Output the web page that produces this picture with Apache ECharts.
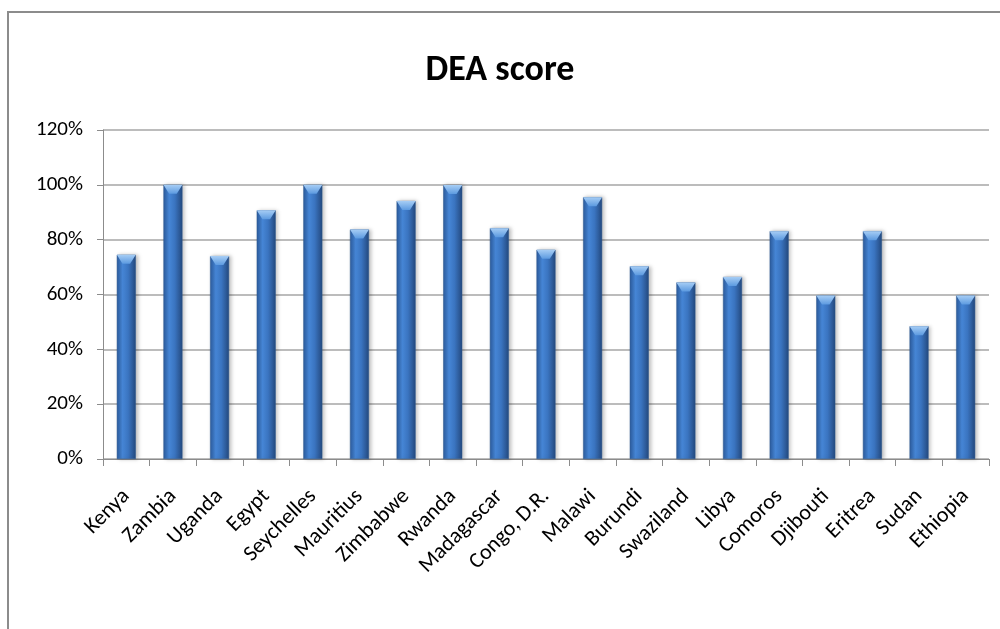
<!DOCTYPE html>
<html>
<head>
<meta charset="utf-8">
<script src="https://cdn.jsdelivr.net/npm/echarts@6/dist/echarts.min.js"></script>
<style>
  html, body { margin: 0; padding: 0; background: #fff; }
  #chart { width: 1000px; height: 629px; }
</style>
</head>
<body>
<div id="chart"></div>
<script>
var countries = ['Kenya', 'Zambia', 'Uganda', 'Egypt', 'Seychelles', 'Mauritius', 'Zimbabwe', 'Rwanda',
    'Madagascar', 'Congo, D.R.', 'Malawi', 'Burundi', 'Swaziland', 'Libya', 'Comoros', 'Djibouti',
    'Eritrea', 'Sudan', 'Ethiopia'];
var scores = [74.5, 100, 74, 90.7, 100, 83.7, 94.1, 99.9, 84.2, 76.3, 95.5, 70.3, 64.4, 66.4, 83.1, 59.6, 83.1, 48.4, 59.6];
var yTicks = [0, 20, 40, 60, 80, 100, 120];

var font = "Carlito, 'Open Sans', sans-serif";

var option = {
    animation: false,
    title: {
        text: 'DEA score',
        left: 'center',
        top: 48,
        textStyle: { fontFamily: font, fontSize: 36, fontWeight: 'bold', color: '#000' }
    },
    graphic: [{
        type: 'rect',
        shape: { x: 8, y: 12, width: 1100, height: 700 },
        style: { fill: 'none', stroke: '#8c8c8c', lineWidth: 2 },
        silent: true
    }],
    grid: { left: 103, right: 11, top: 130, bottom: 170 },
    xAxis: {
        type: 'category',
        data: countries,
        axisLine: { lineStyle: { color: '#8c8c8c' } },
        axisTick: { show: true, length: 7, alignWithLabel: false, lineStyle: { color: '#8c8c8c' } },
        axisLabel: { interval: 0, rotate: 45, margin: 34, fontFamily: font, fontSize: 22, color: '#000' }
    },
    yAxis: {
        type: 'value',
        min: 0,
        max: 120,
        interval: 20,
        axisLine: { show: true, lineStyle: { color: '#8c8c8c' } },
        axisTick: { show: true, length: 6, lineStyle: { color: '#8c8c8c' } },
        splitLine: { lineStyle: { color: '#a6a6a6', width: 1.5 } },
        axisLabel: {
            margin: 20,
            fontFamily: font,
            fontSize: 21,
            color: '#000',
            formatter: function(v) { return yTicks.indexOf(v) >= 0 ? v + '%' : ''; }
        }
    },
    series: [{
        type: 'bar',
        data: scores,
        barWidth: 19,
        itemStyle: {
            color: new echarts.graphic.LinearGradient(0, 0, 1, 0, [
                { offset: 0, color: '#2c5c9e' },
                { offset: 0.3, color: '#4686d6' },
                { offset: 0.6, color: '#3a74c0' },
                { offset: 1, color: '#24497e' }
            ]),
            borderColor: '#2a568f',
            borderWidth: 0.5,
            shadowColor: 'rgba(0,0,0,0.25)',
            shadowBlur: 4,
            shadowOffsetX: 2
        }
    }, {
        type: 'pictorialBar',
        data: scores,
        symbol: 'path://M0,0 L20,0 L14,10 L6,10 Z',
        symbolSize: [19, 9],
        symbolPosition: 'end',
        z: 3,
        itemStyle: {
            color: new echarts.graphic.LinearGradient(0, 0, 0, 1, [
                { offset: 0, color: '#a6cdf5' },
                { offset: 1, color: '#5c9ae0' }
            ])
        }
    }]
};

echarts.init(document.getElementById('chart')).setOption(option);
</script>
</body>
</html>
